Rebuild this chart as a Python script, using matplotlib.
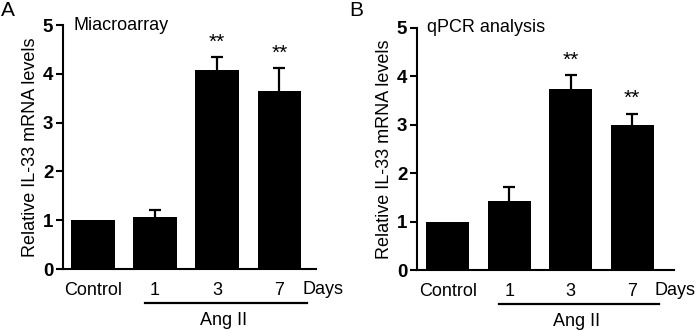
import matplotlib
matplotlib.use("Agg")
import matplotlib.pyplot as plt

plt.rcParams["font.family"] = ["Liberation Sans", "DejaVu Sans"]

CATEGORIES = ["Control", "1", "3", "7"]

MICRO_MEAN = [1.0, 1.07, 4.08, 3.65]
MICRO_ERR = [0.0, 0.14, 0.26, 0.46]
MICRO_SIG = ["", "", "**", "**"]

QPCR_MEAN = [1.0, 1.43, 3.73, 3.0]
QPCR_ERR = [0.0, 0.29, 0.29, 0.22]
QPCR_SIG = ["", "", "**", "**"]

YTICKS = [0, 1, 2, 3, 4, 5]


def draw_panel(fig, rect, xlim, means, errs, sigs, title, letter, letter_x):
    ax = fig.add_axes(rect)
    x = list(range(len(CATEGORIES)))
    # symmetric error bars; the lower half is hidden behind the bar
    ax.errorbar(x[1:], means[1:], yerr=errs[1:], fmt="none", ecolor="black",
                elinewidth=1.6, capsize=4, capthick=1.6, zorder=1)
    ax.bar(x, means, width=0.7, color="black", zorder=2)
    for xi, m, e, s in zip(x, means, errs, sigs):
        if s:
            ax.text(xi, m + e + 0.12, s, ha="center", va="bottom", fontsize=15)
    ax.set_xlim(*xlim)
    ax.set_ylim(0, 5)
    ax.set_yticks(YTICKS)
    ax.set_yticklabels([str(t) for t in YTICKS], fontsize=13.5, fontweight="bold")
    ax.set_xticks(x)
    ax.set_xticklabels(CATEGORIES, fontsize=13)
    ax.tick_params(axis="x", length=0, pad=9)
    ax.tick_params(axis="y", length=5, width=1.5, direction="out", pad=2)
    for side in ("top", "right"):
        ax.spines[side].set_visible(False)
    for side in ("left", "bottom"):
        ax.spines[side].set_linewidth(1.5)
    ax.set_ylabel("Relative IL-33 mRNA levels", fontsize=13, labelpad=3)
    ax.text(xlim[0] + 0.17, 5.0, title, ha="left", va="center", fontsize=13)
    # days label and Ang II bracket
    ax.text(3.37, -0.42, "Days", ha="left", va="center", fontsize=13,
            clip_on=False)
    ax.plot([0.84, 3.44], [-0.70, -0.70], color="black", lw=1.6,
            clip_on=False)
    ax.text(2.1, -0.88, "Ang II", ha="center", va="top", fontsize=13,
            clip_on=False)
    fig.text(letter_x, 0.997, letter, fontsize=15, ha="left", va="top")
    return ax


def main():
    fig = plt.figure(figsize=(6.98, 3.30), dpi=100)
    draw_panel(fig, [0.0903, 0.1848, 0.3625, 0.7394], (-0.48, 3.59),
               MICRO_MEAN, MICRO_ERR, MICRO_SIG, "Miacroarray", "A", 0.001)
    draw_panel(fig, [0.5974, 0.1818, 0.368, 0.734], (-0.5, 3.68),
               QPCR_MEAN, QPCR_ERR, QPCR_SIG, "qPCR analysis", "B", 0.501)
    fig.savefig("out.png", dpi=100)
    plt.close(fig)


if __name__ == "__main__":
    main()
